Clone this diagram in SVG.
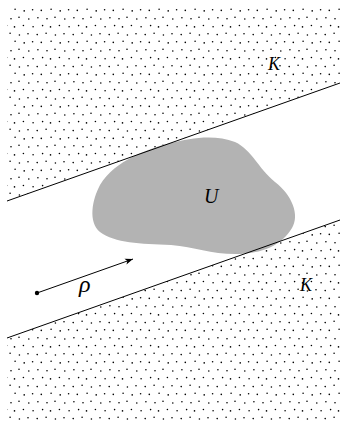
<svg xmlns="http://www.w3.org/2000/svg" width="342" height="423" viewBox="0 0 342 423">
<style>
.bd{stroke:#000;stroke-width:1;fill:none}
.lbl{font-family:"Liberation Serif",serif;font-style:italic;fill:#000}
</style>
<defs>
<pattern id="dots" patternUnits="userSpaceOnUse" width="36" height="32">
<g fill="#000">
<circle cx="1.2" cy="2.6" r="0.8"/><circle cx="10.1" cy="1.3" r="0.8"/><circle cx="19.4" cy="3.0" r="0.8"/><circle cx="28.0" cy="1.8" r="0.8"/>
<circle cx="5.3" cy="10.4" r="0.8"/><circle cx="15.1" cy="9.3" r="0.8"/><circle cx="24.2" cy="10.9" r="0.8"/><circle cx="32.6" cy="9.7" r="0.8"/>
<circle cx="1.9" cy="17.7" r="0.8"/><circle cx="11.0" cy="18.7" r="0.8"/><circle cx="19.0" cy="17.3" r="0.8"/><circle cx="28.8" cy="19.0" r="0.8"/>
<circle cx="6.6" cy="25.6" r="0.8"/><circle cx="14.5" cy="26.9" r="0.8"/><circle cx="23.4" cy="25.5" r="0.8"/><circle cx="33.1" cy="26.7" r="0.8"/>
</g>
</pattern>
<marker id="ah" markerWidth="10" markerHeight="8" refX="8" refY="4" orient="auto" markerUnits="userSpaceOnUse">
<path d="M0,1 L8,4 L0,7 L2,4 Z" fill="#000"/>
</marker>
</defs>
<g id="K-top">
<polygon points="7,4 340,4 340,83 7,201" fill="url(#dots)"/>
<text class="lbl" x="268" y="70" font-size="18">K</text>
</g>
<g id="K-bottom">
<polygon points="7,338 340,220 340,421 7,421" fill="url(#dots)"/>
<text class="lbl" x="300" y="291" font-size="18">K</text>
</g>
<g id="U">
<path d="M171,143 C190,138 215,134 235,142 C252,150 258,168 275,182 C292,195 300,215 292,228 C282,245 262,254 236,254 C210,254 195,247 171,245 C140,244 115,243 100,232 C88,222 92,200 100,185 C115,160 150,148 171,143 Z" fill="#b3b3b3"/>
<text class="lbl" x="204" y="203" font-size="20">U</text>
</g>
<g id="connectors">
<line class="bd" x1="7" y1="201" x2="340" y2="83"/>
<line class="bd" x1="7" y1="338" x2="340" y2="220"/>
<line class="bd" x1="37" y1="293" x2="133" y2="259" marker-end="url(#ah)"/>
<circle cx="37" cy="293" r="2.2" fill="#000"/>
</g>
<g id="rho">
<text class="lbl" x="79" y="292" font-size="24">ρ</text>
</g>
</svg>
